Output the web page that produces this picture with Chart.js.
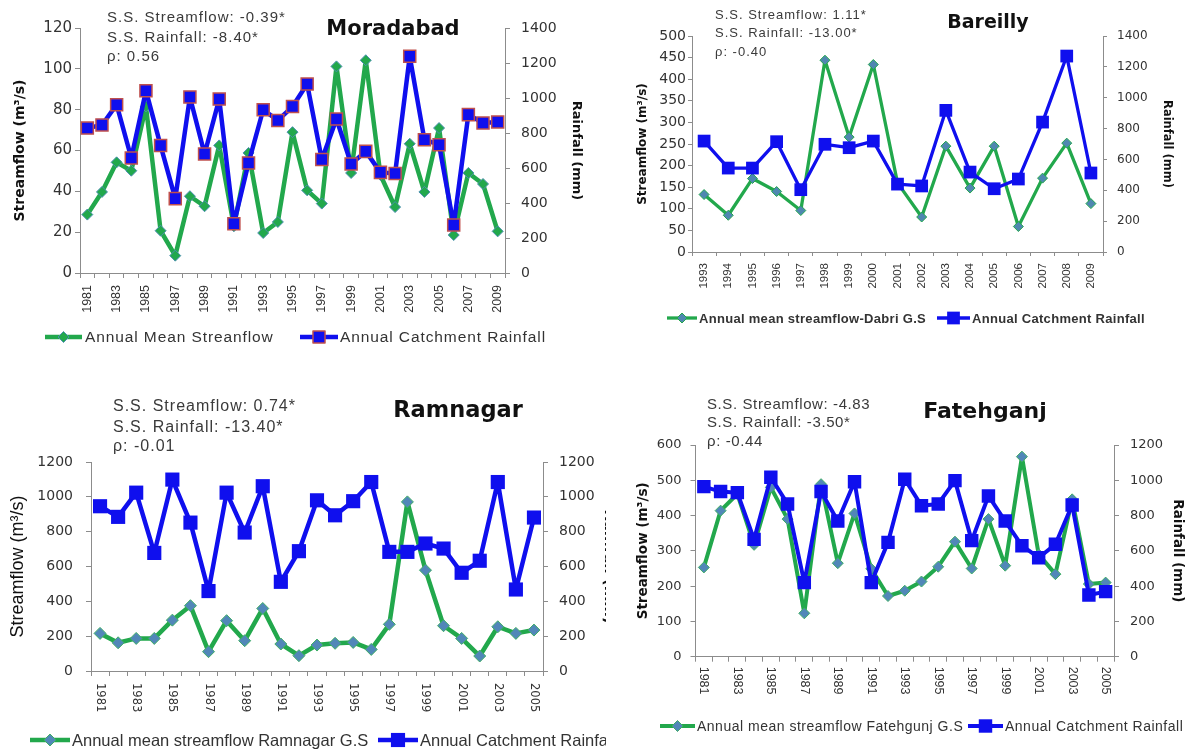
<!DOCTYPE html>
<html>
<head>
<meta charset="utf-8">
<script src="https://cdn.jsdelivr.net/npm/chart.js@4.4.1/dist/chart.umd.min.js"></script>
<style>
  html, body { margin: 0; padding: 0; background: #ffffff; }
  body { width: 1195px; height: 749px; position: relative; overflow: hidden; }
  canvas { position: absolute; }
</style>
</head>
<body>
<canvas id="moradabad" width="600" height="360" style="left:0px;top:0px"></canvas>
<canvas id="bareilly" width="595" height="360" style="left:600px;top:0px"></canvas>
<canvas id="ramnagar" width="606" height="369" style="left:0px;top:380px"></canvas>
<canvas id="fatehganj" width="589" height="369" style="left:606px;top:380px"></canvas>
<script>
// ---- Moradabad (1981-2009) ----
const moradabadYears = ['1981','1982','1983','1984','1985','1986','1987','1988','1989','1990',
  '1991','1992','1993','1994','1995','1996','1997','1998','1999','2000',
  '2001','2002','2003','2004','2005','2006','2007','2008','2009'];
const moradabadFlow = [28.6, 39.7, 54.2, 50.1, 81.6, 20.7, 8.5, 37.6, 32.7, 62.5,
  22.9, 58.8, 19.6, 25.0, 69.0, 40.5, 34.0, 101.2, 49.0, 104.2,
  48.0, 32.3, 63.3, 39.7, 71.0, 18.6, 49.0, 43.6, 20.4];
const moradabadRain = [828, 846, 962, 657, 1042, 728, 425, 1006, 680, 994,
  282, 629, 933, 872, 951, 1080, 648, 880, 623, 695,
  575, 568, 1238, 762, 733, 274, 905, 857, 863];
const moradabadNotes = ['S.S. Streamflow: -0.39*', 'S.S. Rainfall: -8.40*', 'ρ: 0.56'];

// ---- Bareilly (1993-2009) ----
const bareillyYears = ['1993','1994','1995','1996','1997','1998','1999','2000','2001',
  '2002','2003','2004','2005','2006','2007','2008','2009'];
const bareillyFlow = [133, 85, 170, 140, 96, 444, 266, 434, 160, 81, 245, 148, 245, 59, 171, 252, 112];
const bareillyRain = [719, 544, 544, 715, 404, 698, 676, 719, 440, 428, 918, 518, 410, 473, 842, 1270, 512];
const bareillyNotes = ['S.S. Streamflow: 1.11*', 'S.S. Rainfall: -13.00*', 'ρ: -0.40'];

// ---- Ramnagar (1981-2005) ----
const ramnagarYears = ['1981','1982','1983','1984','1985','1986','1987','1988','1989','1990',
  '1991','1992','1993','1994','1995','1996','1997','1998','1999','2000',
  '2001','2002','2003','2004','2005'];
const ramnagarFlow = [216, 162, 187, 187, 292, 375, 111, 289, 174, 359,
  155, 88, 149, 159, 164, 124, 268, 971, 579, 260, 187, 86, 254, 216, 235];
const ramnagarRain = [946, 885, 1024, 678, 1099, 852, 459, 1024, 795, 1061,
  512, 688, 980, 894, 975, 1085, 684, 684, 732, 703, 564, 633, 1085, 468, 881];
const ramnagarNotes = ['S.S. Streamflow: 0.74*', 'S.S. Rainfall: -13.40*', 'ρ: -0.01'];

// ---- Fatehganj (1981-2005) ----
const fatehganjYears = ['1981','1982','1983','1984','1985','1986','1987','1988','1989','1990',
  '1991','1992','1993','1994','1995','1996','1997','1998','1999','2000',
  '2001','2002','2003','2004','2005'];
const fatehganjFlow = [253, 414, 461, 317, 480, 390, 123, 489, 265, 406,
  249, 172, 187, 213, 255, 326, 250, 390, 258, 567, 290, 234, 446, 206, 210];
const fatehganjRain = [964, 936, 930, 665, 1017, 866, 420, 936, 769, 992,
  420, 648, 1006, 856, 866, 998, 658, 911, 769, 629, 561, 637, 860, 350, 369];
const fatehganjNotes = ['S.S. Streamflow: -4.83', 'S.S. Rainfall: -3.50*', 'ρ: -0.44'];

const GREEN = '#22a84c';
const BLUE = '#0f0fee';
const AXIS = '#8c8c8c';
const TICK_TEXT = '#333333';

// Titles, statistics block, legend and (optionally) downward-reading year labels
const panelDecor = {
  id: 'panelDecor',
  afterDraw(chart, args, o) {
    const ctx = chart.ctx;
    ctx.save();
    ctx.fillStyle = '#111111';
    ctx.font = 'bold ' + o.titleSize + 'px "DejaVu Sans"';
    ctx.textAlign = 'center';
    ctx.textBaseline = 'middle';
    ctx.fillText(o.title, o.titleX, o.titleY);

    ctx.font = o.noteSize + 'px "Liberation Sans"';
    ctx.letterSpacing = o.noteSpacing + 'px';
    ctx.textAlign = 'left';
    ctx.fillStyle = '#3a3a3a';
    o.notes.forEach((t, i) => ctx.fillText(t, o.noteX, o.noteY[i]));

    // legend
    ctx.font = (o.legendBold ? 'bold ' : '') + o.legendSize + 'px "Liberation Sans"';
    ctx.letterSpacing = o.legendSpacing + 'px';
    ctx.lineJoin = 'round';
    o.legend.forEach((item) => {
      const ds = chart.data.datasets[item.ds];
      ctx.strokeStyle = ds.borderColor;
      ctx.lineWidth = ds.borderWidth;
      ctx.beginPath();
      ctx.moveTo(item.x1, o.legendY);
      ctx.lineTo(item.x2, o.legendY);
      ctx.stroke();
      ctx.fillStyle = ds.pointBackgroundColor;
      ctx.strokeStyle = ds.pointBorderColor;
      ctx.lineWidth = ds.pointBorderWidth;
      Chart.helpers.drawPoint(ctx, {
        pointStyle: ds.pointStyle, radius: ds.pointRadius, rotation: 0,
        borderWidth: ds.pointBorderWidth
      }, (item.x1 + item.x2) / 2, o.legendY);
      ctx.fillStyle = '#333333';
      ctx.textBaseline = 'middle';
      ctx.fillText(ds.label, item.tx, o.legendY + 1);
    });

    // year labels reading top-to-bottom
    if (o.downLabels) {
      const xs = chart.scales.x;
      ctx.letterSpacing = '0px';
      ctx.font = o.downSize + 'px "' + o.downFamily + '"';
      ctx.fillStyle = TICK_TEXT;
      ctx.textAlign = 'left';
      ctx.textBaseline = 'middle';
      const y0 = chart.chartArea.bottom + o.downGap;
      chart.data.labels.forEach((lab, i) => {
        if (i % 2 !== 0) return;
        const px = xs.getPixelForTick(i);
        ctx.save();
        ctx.translate(px, y0);
        ctx.rotate(Math.PI / 2);
        ctx.fillText(lab, 0, 0);
        ctx.restore();
      });
    }
    ctx.restore();
  }
};

function yAxis(o) {
  return {
    type: 'linear', position: o.position, min: o.min, max: o.max,
    ticks: {
      stepSize: o.step, padding: o.pad, color: TICK_TEXT,
      font: { family: 'DejaVu Sans', size: o.size },
      callback: (v) => String(v)
    },
    grid: { drawOnChartArea: false, drawTicks: true, tickLength: o.tickLen, color: AXIS },
    border: { display: true, color: AXIS, width: 1 },
    title: {
      display: true, text: o.title, color: '#111111',
      font: { family: o.titleFamily || 'DejaVu Sans', size: o.titleSize, weight: o.titleWeight || 'bold' },
      padding: { top: o.titlePad, bottom: 0 }
    },
    afterFit: (s) => { s.width = o.width; }
  };
}

function xAxis(o) {
  return {
    type: 'category', offset: true,
    grid: { display: true, drawOnChartArea: false, drawTicks: true, tickLength: o.tickLen, color: AXIS, offset: true },
    border: { display: true, color: AXIS, width: 1 },
    ticks: {
      display: o.showTicks, autoSkip: false, minRotation: 90, maxRotation: 90,
      padding: o.pad, color: TICK_TEXT,
      font: { family: o.family, size: o.size },
      callback: function (v, i) { return (o.every === 1 || i % 2 === 0) ? this.getLabelForValue(v) : ''; }
    },
    afterFit: (s) => { s.height = o.height; }
  };
}

function seriesSet(p) {
  return [
    {
      label: p.flowLabel, data: p.flow, yAxisID: 'y', order: 2,
      borderColor: GREEN, borderWidth: p.lineW, tension: 0,
      borderJoinStyle: 'round', borderCapStyle: 'round',
      pointStyle: 'rectRot', pointRadius: p.diamondR, pointHoverRadius: p.diamondR,
      pointBackgroundColor: p.diamondFill, pointBorderColor: p.diamondEdge, pointBorderWidth: 1
    },
    {
      label: 'Annual Catchment Rainfall', data: p.rain, yAxisID: 'y1', order: 1,
      borderColor: BLUE, borderWidth: p.lineW, tension: 0,
      borderJoinStyle: 'round', borderCapStyle: 'round',
      pointStyle: 'rect', pointRadius: p.squareR, pointHoverRadius: p.squareR,
      pointBackgroundColor: BLUE, pointBorderColor: p.squareEdge, pointBorderWidth: p.squareEdgeW
    }
  ];
}

function build(id, p) {
  return new Chart(document.getElementById(id), {
    type: 'line',
    data: { labels: p.labels, datasets: seriesSet(p) },
    options: {
      responsive: false, animation: false, devicePixelRatio: 1,
      layout: { padding: p.padding },
      plugins: { legend: { display: false }, tooltip: { enabled: false }, panelDecor: p.decor },
      scales: { x: p.x, y: p.y, y1: p.y1 }
    },
    plugins: [panelDecor]
  });
}

// Moradabad
build('moradabad', {
  labels: moradabadYears, flow: moradabadFlow, rain: moradabadRain,
  flowLabel: 'Annual Mean Streanflow',
  lineW: 4.5, diamondR: 5.5, diamondFill: GREEN, diamondEdge: '#4b8fb0',
  squareR: 8.5, squareEdge: '#c0504d', squareEdgeW: 1.5,
  padding: { top: 28, left: 0, right: 16, bottom: 0 },
  x: xAxis({ showTicks: true, tickLen: 5, pad: 7, family: 'Liberation Sans', size: 12.5, height: 87, every: 2 }),
  y: yAxis({ position: 'left', min: 0, max: 120, step: 20, pad: 3, size: 15, tickLen: 5,
    title: 'Streamflow (m³/s)', titleSize: 14, titlePad: 11.6, width: 80 }),
  y1: yAxis({ position: 'right', min: 0, max: 1400, step: 200, pad: 11, size: 14, tickLen: 5,
    title: 'Rainfall (mm)', titleSize: 13, titlePad: 0, width: 79 }),
  decor: {
    title: 'Moradabad', titleSize: 21, titleX: 393, titleY: 30,
    notes: moradabadNotes, noteSize: 15, noteSpacing: 1, noteX: 107, noteY: [18, 38, 57],
    legendY: 337, legendSize: 15.5, legendSpacing: 0.9, legendBold: false,
    legend: [{ ds: 0, x1: 45, x2: 82, tx: 85 }, { ds: 1, x1: 300, x2: 338, tx: 340 }],
    downLabels: false
  }
});

// Bareilly
build('bareilly', {
  labels: bareillyYears, flow: bareillyFlow, rain: bareillyRain,
  flowLabel: 'Annual mean streamflow-Dabri G.S',
  lineW: 3.3, diamondR: 5, diamondFill: '#4f87b0', diamondEdge: GREEN,
  squareR: 9, squareEdge: BLUE, squareEdgeW: 0,
  padding: { top: 36, left: 0, right: 21, bottom: 0 },
  x: xAxis({ showTicks: true, tickLen: 4, pad: 7, family: 'Liberation Sans', size: 11.5, height: 108, every: 1 }),
  y: yAxis({ position: 'left', min: 0, max: 500, step: 50, pad: 2, size: 14, tickLen: 4,
    title: 'Streamflow (m³/s)', titleSize: 12, titlePad: 35.8, width: 92 }),
  y1: yAxis({ position: 'right', min: 0, max: 1400, step: 200, pad: 10, size: 12, tickLen: 4,
    title: 'Rainfall (mm)', titleSize: 11.5, titlePad: 0, width: 71 }),
  decor: {
    title: 'Bareilly', titleSize: 19, titleX: 388, titleY: 23,
    notes: bareillyNotes, noteSize: 13, noteSpacing: 1, noteX: 115, noteY: [15, 33, 52],
    legendY: 318, legendSize: 13, legendSpacing: 0.3, legendBold: true,
    legend: [{ ds: 0, x1: 67, x2: 97, tx: 99 }, { ds: 1, x1: 337, x2: 370, tx: 372 }],
    downLabels: false
  }
});

// Ramnagar (right-hand axis title runs off the canvas edge)
build('ramnagar', {
  labels: ramnagarYears, flow: ramnagarFlow, rain: ramnagarRain,
  flowLabel: 'Annual mean streamflow Ramnagar G.S',
  lineW: 4.5, diamondR: 6, diamondFill: '#5187b8', diamondEdge: '#3fae66',
  squareR: 10, squareEdge: BLUE, squareEdgeW: 0,
  padding: { top: 82, left: 0, right: 0, bottom: 0 },
  x: xAxis({ showTicks: false, tickLen: 5, pad: 7, family: 'DejaVu Sans', size: 11.5, height: 78, every: 2 }),
  y: yAxis({ position: 'left', min: 0, max: 1200, step: 200, pad: 13, size: 14, tickLen: 5,
    title: 'Streamflow (m³/s)', titleSize: 18, titleFamily: 'Liberation Sans', titleWeight: 'normal',
    titlePad: 7.7, width: 91 }),
  y1: yAxis({ position: 'right', min: 0, max: 1200, step: 200, pad: 11, size: 14, tickLen: 5,
    title: 'Rainfall (mm)', titleSize: 15, titlePad: -12, width: 63 }),
  decor: {
    title: 'Ramnagar', titleSize: 22.5, titleX: 458, titleY: 31,
    notes: ramnagarNotes, noteSize: 16, noteSpacing: 1, noteX: 113, noteY: [27, 48, 67],
    legendY: 360, legendSize: 16.5, legendSpacing: 0, legendBold: false,
    legend: [{ ds: 0, x1: 30, x2: 70, tx: 72 }, { ds: 1, x1: 378, x2: 418, tx: 420 }],
    downLabels: true, downGap: 12, downSize: 11.5, downFamily: 'DejaVu Sans'
  }
});

// Fatehganj
build('fatehganj', {
  labels: fatehganjYears, flow: fatehganjFlow, rain: fatehganjRain,
  flowLabel: 'Annual mean streamflow Fatehgunj G.S',
  lineW: 4, diamondR: 5.5, diamondFill: '#5187b8', diamondEdge: '#3fae66',
  squareR: 9.5, squareEdge: BLUE, squareEdgeW: 0,
  padding: { top: 65, left: 0, right: 9, bottom: 0 },
  x: xAxis({ showTicks: false, tickLen: 5, pad: 7, family: 'Liberation Sans', size: 12.5, height: 92.3, every: 2 }),
  y: yAxis({ position: 'left', min: 0, max: 600, step: 100, pad: 9, size: 13, tickLen: 5,
    title: 'Streamflow (m³/s)', titleSize: 13.5, titlePad: 28.9, width: 89.5 }),
  y1: yAxis({ position: 'right', min: 0, max: 1200, step: 200, pad: 11, size: 13, tickLen: 5,
    title: 'Rainfall (mm)', titleSize: 13.5, titlePad: 0, width: 72 }),
  decor: {
    title: 'Fatehganj', titleSize: 22, titleX: 379, titleY: 32,
    notes: fatehganjNotes, noteSize: 15, noteSpacing: 0.6, noteX: 101, noteY: [25, 43, 62],
    legendY: 346, legendSize: 14, legendSpacing: 0.5, legendBold: false,
    legend: [{ ds: 0, x1: 54, x2: 89, tx: 91 }, { ds: 1, x1: 362, x2: 397, tx: 399 }],
    downLabels: true, downGap: 10, downSize: 12.5, downFamily: 'Liberation Sans'
  }
});
</script>
</body>
</html>
